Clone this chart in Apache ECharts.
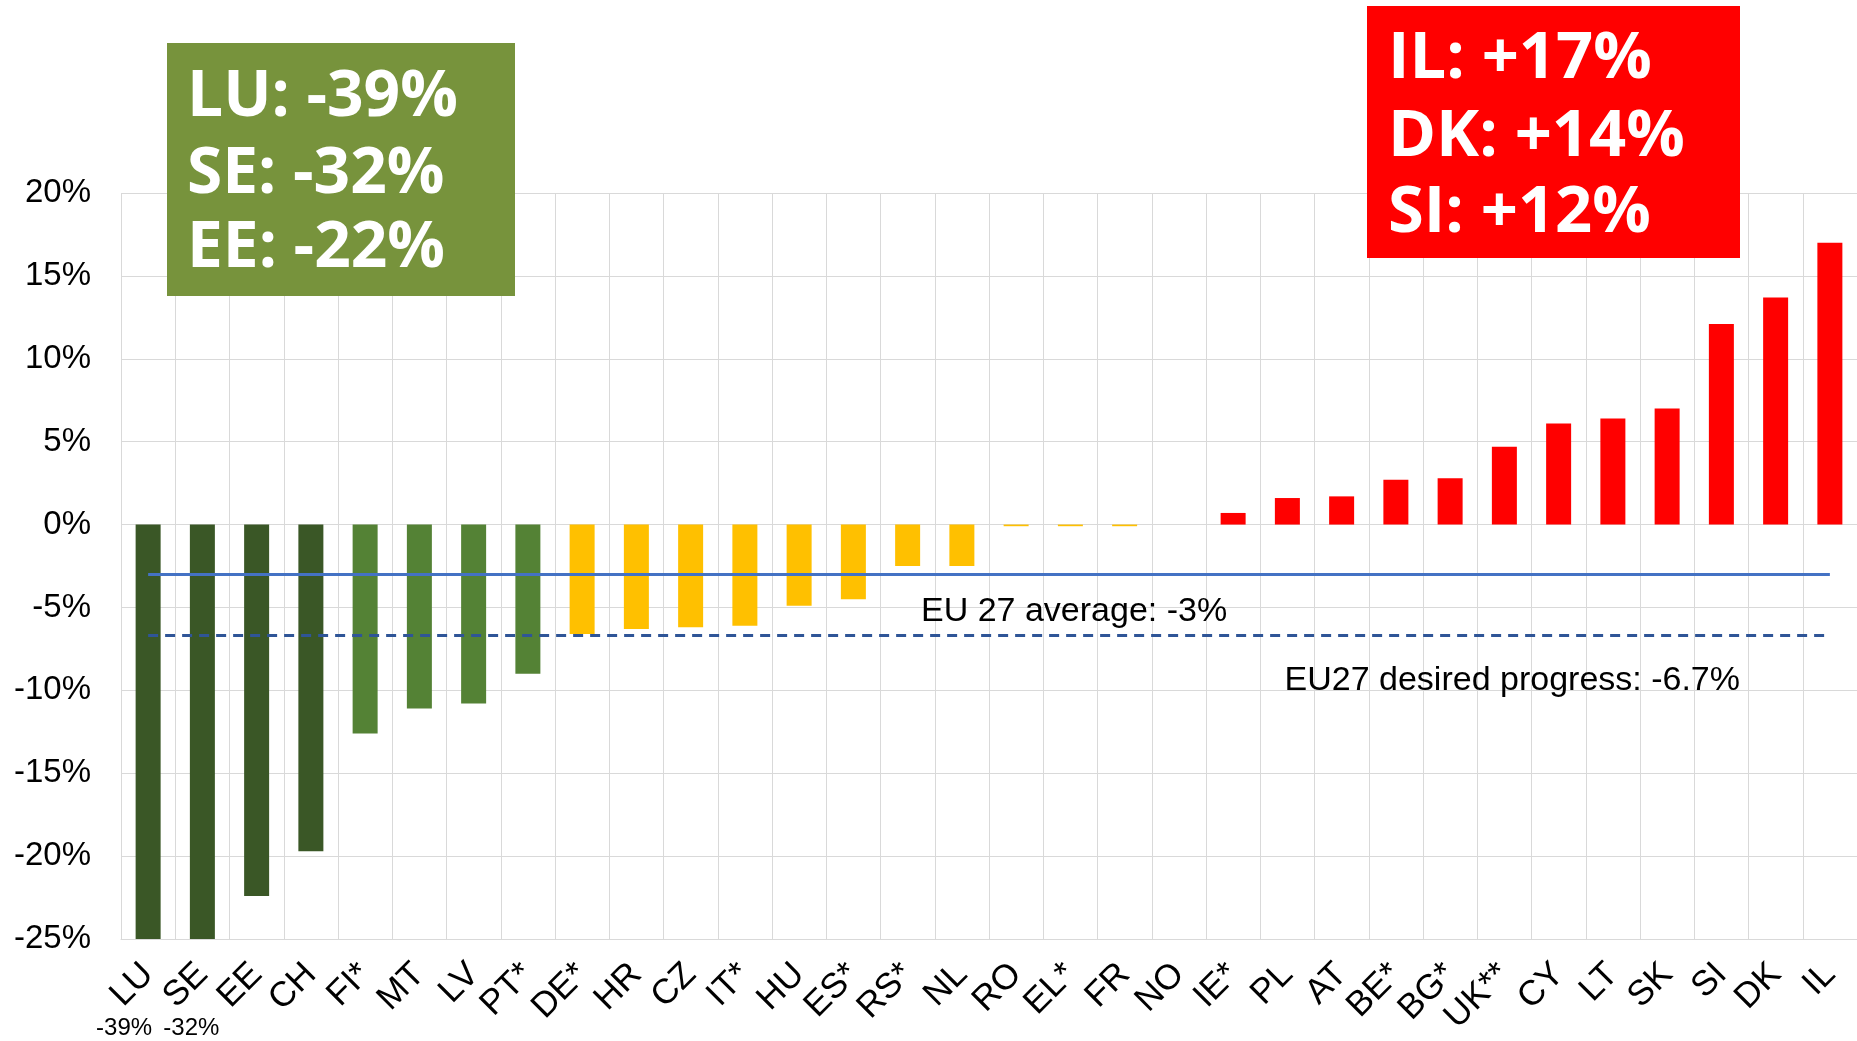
<!DOCTYPE html>
<html>
<head>
<meta charset="utf-8">
<script src="https://cdn.jsdelivr.net/npm/echarts@6/dist/echarts.min.js"></script>
<style>
html,body{margin:0;padding:0;background:#fff;}
#c{width:1857px;height:1041px;}
</style>
</head>
<body>
<div id="c"></div>
<script>
// ---- data ----
var categories = ['LU','SE','EE','CH','FI*','MT','LV','PT*','DE*','HR','CZ','IT*','HU','ES*','RS*','NL','RO','EL*','FR','NO','IE*','PL','AT','BE*','BG*','UK**','CY','LT','SK','SI','DK','IL'];
var changes = [-39,-32,-22.4,-19.7,-12.6,-11.1,-10.8,-9.0,-6.6,-6.3,-6.2,-6.1,-4.9,-4.5,-2.5,-2.5,-0.1,-0.1,-0.1,0,0.7,1.6,1.7,2.7,2.8,4.7,6.1,6.4,7.0,12.1,13.7,17.0];
var yTicks = [-25,-20,-15,-10,-5,0,5,10,15,20];
var euAverage = -3;
var euDesired = -6.7;
var bestLines = ['LU: -39%','SE: -32%','EE: -22%'];
var worstLines = ['IL: +17%','DK: +14%','SI: +12%'];
var clippedLabels = ['-39%','-32%'];

function barColor(v){
  if (v < -15) return '#3A5726';
  if (v < -8) return '#548235';
  if (v < 0) return '#FFC000';
  return '#FF0000';
}

var chart = echarts.init(document.getElementById('c'), null, {renderer:'canvas'});
var first = categories[0], last = categories[categories.length-1];
var option = {
  animation:false,
  backgroundColor:'#fff',
  grid:{left:121, top:193, width:1739, height:746, containLabel:false},
  xAxis:{
    type:'category', data:categories, boundaryGap:true,
    axisLine:{show:true, onZero:false, lineStyle:{color:'#D9D9D9', width:1}},
    axisTick:{show:false},
    splitLine:{show:true, lineStyle:{color:'#D9D9D9', width:1}},
    axisLabel:{rotate:45, interval:0, margin:30, color:'#000', fontFamily:'Liberation Sans, Arial, sans-serif', fontSize:35}
  },
  yAxis:{
    type:'value', min:yTicks[0], max:yTicks[yTicks.length-1], interval:5,
    axisLine:{show:false}, axisTick:{show:false},
    splitLine:{lineStyle:{color:'#D9D9D9', width:1}},
    axisLabel:{formatter:'{value}%', margin:30, color:'#000', fontFamily:'Liberation Sans, Arial, sans-serif', fontSize:33}
  },
  series:[{
    type:'bar', barWidth:25, clip:true,
    data:changes.map(function(v){return {value:v, itemStyle:{color:barColor(v)}};}),
    markLine:{
      symbol:['none','none'], silent:true, label:{show:false},
      data:[
        [{coord:[first, euAverage], lineStyle:{color:'#4472C4', width:3, type:'solid'}},{coord:[last, euAverage]}],
        [{coord:[first, euDesired], lineStyle:{color:'#2F5597', width:3, type:[10,7]}},{coord:[last, euDesired]}]
      ]
    }
  }],
  graphic:[]
};
chart.setOption(option);

var g = [];
g.push({type:'rect', left:167, top:43, shape:{width:348, height:253}, style:{fill:'#77933C'}, z:10});
bestLines.forEach(function(t,i){
  g.push({type:'text', left:187, top:[95,172,246][i]-29, style:{text:t, fill:'#fff', font:'bold 64px "Open Sans", sans-serif'}, z:11});
});
g.push({type:'rect', left:1367, top:6, shape:{width:373, height:252}, style:{fill:'#FF0000'}, z:10});
worstLines.forEach(function(t,i){
  g.push({type:'text', left:1388, top:[56,134,210][i]-29, style:{text:t, fill:'#fff', font:'bold 65px "Open Sans", sans-serif'}, z:11});
});
var pAvg = chart.convertToPixel({xAxisIndex:0, yAxisIndex:0}, [15, euAverage]);
g.push({type:'text', left:921, top:pAvg[1]+20, style:{text:'EU 27 average: ' + euAverage + '%', fill:'#000', font:'34px "Liberation Sans", Arial, sans-serif'}, z:11});
var pDes = chart.convertToPixel({xAxisIndex:0, yAxisIndex:0}, [28, euDesired]);
g.push({type:'text', right:1857-1740, top:pDes[1]+28, style:{text:'EU27 desired progress: ' + euDesired + '%', fill:'#000', font:'34px "Liberation Sans", Arial, sans-serif'}, z:11});
clippedLabels.forEach(function(t,i){
  var p = chart.convertToPixel({xAxisIndex:0, yAxisIndex:0}, [i, 0]);
  g.push({type:'text', x:p[0] - [24,11][i], y:1028, style:{text:t, fill:'#000', font:'24px "Liberation Sans", Arial, sans-serif', align:'center', verticalAlign:'middle'}, z:11});
});
chart.setOption({graphic:g});
</script>
</body>
</html>
